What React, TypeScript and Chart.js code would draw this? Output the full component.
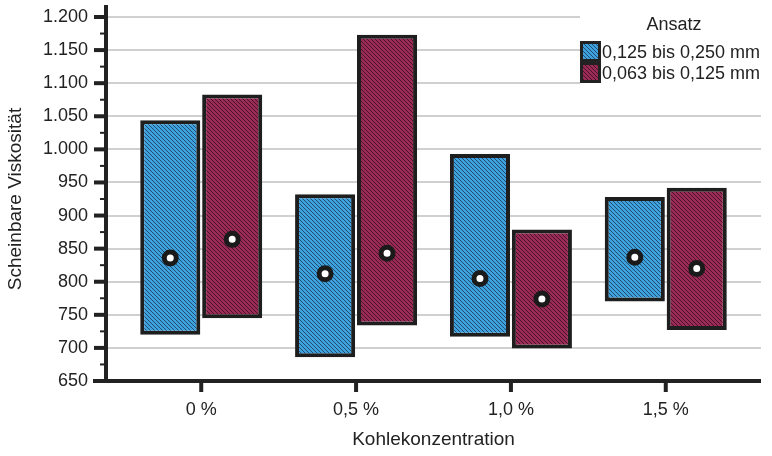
import React, { useEffect, useRef } from 'react';
import { Chart, registerables } from 'chart.js';

Chart.register(...registerables);

// ---- data ----
const categories = ['0 %', '0,5 %', '1,0 %', '1,5 %'];
const seriesLabels = ['0,125 bis 0,250 mm', '0,063 bis 0,125 mm'];
const coarseLow = [720, 686, 717, 770];
const coarseHigh = [1044, 932, 993, 928];
const coarseMean = [836, 812, 805, 837];
const fineLow = [745, 734, 699, 727];
const fineHigh = [1083, 1173, 879, 942];
const fineMean = [864, 843, 774, 820];
const yMin = 650;
const yMax = 1200;
const yStep = 50;
const xTitle = 'Kohlekonzentration';
const yTitle = 'Scheinbare Viskosität';
const legendTitle = 'Ansatz';

const FONT = "'Liberation Sans', Arial, sans-serif";
const INK = '#222222';
const GROUP_SHARE = 0.8;

function fmt(v: number): string {
  if (v >= 1000) {
    return `${Math.floor(v / 1000)}.${String(v % 1000).padStart(3, '0')}`;
  }
  return String(v);
}

function makePattern(base: string, stripe: string): CanvasPattern | string {
  const s = 4;
  const c = document.createElement('canvas');
  c.width = s;
  c.height = s;
  const g = c.getContext('2d');
  if (!g) return base;
  g.fillStyle = base;
  g.fillRect(0, 0, s, s);
  g.fillStyle = stripe;
  for (let i = 0; i < s; i++) g.fillRect(i, i, 1, 1);
  return g.createPattern(c, 'repeat') || base;
}

export default function App() {
  const ref = useRef<HTMLCanvasElement | null>(null);

  useEffect(() => {
    document.body.style.margin = '0';
    const canvas = ref.current;
    if (!canvas) return;

    const blueFill = makePattern('#3fa2df', '#1f4f70');
    const redFill = makePattern('#9a2b56', '#4c142a');
    const fills = [blueFill, redFill];
    const meanOffset = GROUP_SHARE / 4;

    const legendPlugin = {
      id: 'customLegend',
      beforeDatasetsDraw(chart: any) {
        const ctx = chart.ctx as CanvasRenderingContext2D;
        ctx.save();
        ctx.fillStyle = '#ffffff';
        ctx.fillRect(580, 0, 200, 94);
        ctx.fillStyle = INK;
        ctx.font = `18px ${FONT}`;
        ctx.textAlign = 'center';
        ctx.textBaseline = 'middle';
        ctx.fillText(legendTitle, 674, 25);
        ctx.textAlign = 'left';
        seriesLabels.forEach((lab, i) => {
          const y0 = 41 + 21 * i;
          ctx.fillStyle = INK;
          ctx.fillRect(580, y0, 21, 21);
          ctx.fillStyle = fills[i] as any;
          ctx.fillRect(583, y0 + 3, 15, 15);
          ctx.fillStyle = INK;
          ctx.fillText(lab, 602, y0 + 12);
        });
        ctx.restore();
      },
    };

    const axesPlugin = {
      id: 'axesDecor',
      afterDraw(chart: any) {
        const ctx = chart.ctx as CanvasRenderingContext2D;
        const xs = chart.scales.x;
        const ys = chart.scales.y;
        const area = chart.chartArea;
        ctx.save();
        ctx.fillStyle = INK;
        ctx.fillRect(area.left - 2, 5, 4, area.bottom - 5 + 2);
        ctx.fillRect(area.left - 13, area.bottom - 2, area.right - area.left + 13, 4);
        const vals = ys.ticks.map((t: any) => t.value);
        vals.forEach((v: number, i: number) => {
          const y = ys.getPixelForValue(v);
          ctx.fillRect(area.left - 12, y - 2, 12, 4);
          if (i < vals.length - 1) {
            const ym = ys.getPixelForValue((v + vals[i + 1]) / 2);
            ctx.fillRect(area.left - 6, ym - 1, 6, 2);
          }
        });
        categories.forEach((_, i) => {
          const x = xs.getPixelForValue(i);
          ctx.fillRect(x - 2, area.bottom, 4, 11);
        });
        ctx.restore();
      },
    };

    const barData = (lo: number[], hi: number[]) =>
      categories.map((_, i) => ({ x: i, y: [lo[i], hi[i]] }));

    const pointStyle = {
      showLine: false,
      pointRadius: 6,
      pointBorderWidth: 5,
      pointBackgroundColor: '#ffffff',
      pointBorderColor: '#1a1a1a',
      order: 0,
    };

    const chart = new Chart(canvas, {
      type: 'bar',
      data: {
        datasets: [
          {
            type: 'bar',
            label: seriesLabels[0],
            data: barData(coarseLow, coarseHigh) as any,
            backgroundColor: blueFill as any,
            borderColor: '#1e1e1e',
            borderWidth: 4,
            borderSkipped: false,
            categoryPercentage: GROUP_SHARE,
            barPercentage: 0.97,
            order: 2,
          },
          {
            type: 'bar',
            label: seriesLabels[1],
            data: barData(fineLow, fineHigh) as any,
            backgroundColor: redFill as any,
            borderColor: '#1e1e1e',
            borderWidth: 4,
            borderSkipped: false,
            categoryPercentage: GROUP_SHARE,
            barPercentage: 0.97,
            order: 2,
          },
          {
            type: 'line',
            label: 'mean1',
            data: coarseMean.map((v, i) => ({ x: i - meanOffset, y: v })) as any,
            ...pointStyle,
          },
          {
            type: 'line',
            label: 'mean2',
            data: fineMean.map((v, i) => ({ x: i + meanOffset, y: v })) as any,
            ...pointStyle,
          },
        ],
      },
      options: {
        responsive: false,
        animation: false,
        devicePixelRatio: 1,
        layout: { padding: { top: 17, right: 3, left: 0, bottom: 0 } },
        font: { family: FONT, size: 18 } as any,
        color: INK,
        plugins: {
          legend: { display: false },
          tooltip: { enabled: false },
        },
        scales: {
          x: {
            type: 'linear',
            min: -0.615,
            max: categories.length - 1 + 0.615,
            offset: false,
            afterBuildTicks: (s: any) => {
              s.ticks = categories.map((_, i) => ({ value: i }));
            },
            afterFit: (s: any) => {
              s.height = 75;
              s.paddingLeft = 0;
              s.paddingRight = 0;
            },
            grid: { display: false, offset: false, drawTicks: false },
            border: { display: false },
            ticks: {
              autoSkip: false,
              maxRotation: 0,
              padding: 18,
              color: INK,
              font: { family: FONT, size: 18 },
              callback: (v: any) => categories[Math.round(Number(v))] ?? '',
            },
            title: {
              display: true,
              text: xTitle,
              color: INK,
              font: { family: FONT, size: 19 },
              padding: { top: 0, bottom: 5 },
            },
          },
          y: {
            type: 'linear',
            min: yMin,
            max: yMax,
            afterFit: (s: any) => {
              s.width = 106;
              s.paddingTop = 0;
              s.paddingBottom = 0;
            },
            grid: { color: '#d0d0d0', lineWidth: 2, drawTicks: false },
            border: { display: false },
            ticks: {
              stepSize: yStep,
              autoSkip: false,
              padding: 18,
              color: INK,
              font: { family: FONT, size: 18 },
              callback: (v: any) => fmt(Number(v)),
            },
            title: {
              display: true,
              text: yTitle,
              color: INK,
              font: { family: FONT, size: 19 },
              padding: { top: 4, bottom: 0 },
            },
          },
        },
      } as any,
      plugins: [legendPlugin, axesPlugin],
    });

    return () => {
      chart.destroy();
    };
  }, []);

  return (
    <div style={{ width: 772, height: 456, position: 'relative' }}>
      <canvas ref={ref} width={772} height={456} style={{ display: 'block' }} />
    </div>
  );
}
